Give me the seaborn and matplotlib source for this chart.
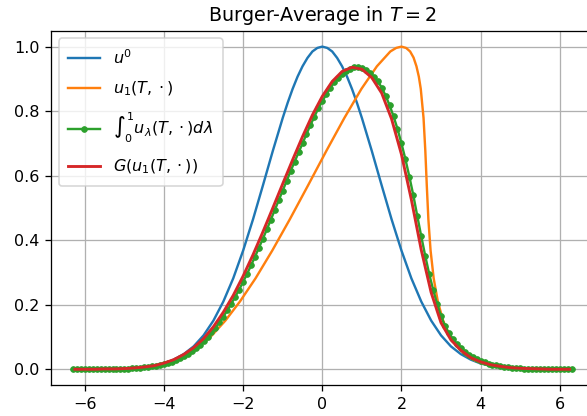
import numpy as np
import matplotlib
matplotlib.use("Agg")
import matplotlib.pyplot as plt
import seaborn as sns

# initial profile u^0 (finer steps around the peak)
blue_x = [-6.25, -6.0, -5.75, -5.5, -5.25, -5.0, -4.75, -4.5, -4.25, -4.0,
          -3.75, -3.5, -3.25, -3.0, -2.75, -2.5, -2.25, -2.0, -1.75, -1.5,
          -1.25, -1.0, -0.875, -0.75, -0.625, -0.5, -0.375, -0.25, -0.125, 0.0,
          0.125, 0.25, 0.375, 0.5, 0.625, 0.75, 0.875, 1.0, 1.25, 1.5,
          1.75, 2.0, 2.25, 2.5, 2.75, 3.0, 3.25, 3.5, 3.75, 4.0,
          4.25, 4.5, 4.75, 5.0, 5.25, 5.5, 5.75, 6.0, 6.25]
blue_y = [0.000, 0.000, 0.000, 0.001, 0.001, 0.002, 0.004, 0.006, 0.011, 0.018,
          0.030, 0.047, 0.071, 0.105, 0.151, 0.210, 0.282, 0.368, 0.465, 0.570,
          0.677, 0.779, 0.826, 0.869, 0.907, 0.939, 0.965, 0.985, 0.996, 1.000,
          0.996, 0.985, 0.965, 0.939, 0.907, 0.869, 0.826, 0.779, 0.677, 0.570,
          0.465, 0.368, 0.282, 0.210, 0.151, 0.105, 0.071, 0.047, 0.030, 0.018,
          0.011, 0.006, 0.004, 0.002, 0.001, 0.001, 0.000, 0.000, 0.000]

# u_1(T, .)  (steep front near x = 2.7)
orange_x = [-6.25, -6.0, -5.749, -5.499, -5.248, -4.996, -4.743, -4.487, -4.228, -3.963,
            -3.691, -3.406, -3.107, -2.789, -2.448, -2.081, -1.686, -1.264, -0.820, -0.360,
            0.103, 0.558, 0.988, 1.379, 1.719, 1.867, 2.0, 2.117, 2.219, 2.306,
            2.379, 2.439, 2.488, 2.558, 2.603, 2.640, 2.680, 2.736, 2.814, 2.919,
            3.052, 3.211, 3.393, 3.594, 3.809, 4.037, 4.272, 4.513, 4.757, 5.004,
            5.252, 5.501, 5.751, 6.0, 6.25]
orange_y = [0.000, 0.000, 0.000, 0.001, 0.001, 0.002, 0.004, 0.006, 0.011, 0.018,
            0.030, 0.047, 0.071, 0.105, 0.151, 0.210, 0.282, 0.368, 0.465, 0.570,
            0.677, 0.779, 0.869, 0.939, 0.985, 0.996, 1.000, 0.996, 0.985, 0.966,
            0.939, 0.907, 0.869, 0.779, 0.677, 0.570, 0.465, 0.368, 0.282, 0.210,
            0.151, 0.105, 0.071, 0.047, 0.030, 0.018, 0.011, 0.006, 0.004, 0.002,
            0.001, 0.001, 0.000, 0.000, 0.000]

# average over lambda, sampled every 0.1 from -6.3 to 6.3
green_x = np.linspace(-6.3, 6.3, 127)
green_y = [0.000, 0.000, 0.000, 0.000, 0.000, 0.000, 0.000, 0.000, 0.001, 0.001,
           0.001, 0.001, 0.001, 0.002, 0.002, 0.003, 0.004, 0.005, 0.006, 0.007,
           0.009, 0.011, 0.014, 0.017, 0.020, 0.024, 0.029, 0.034, 0.040, 0.048,
           0.056, 0.065, 0.076, 0.087, 0.099, 0.114, 0.129, 0.145, 0.163, 0.183,
           0.203, 0.225, 0.247, 0.271, 0.296, 0.322, 0.349, 0.377, 0.405, 0.434,
           0.464, 0.494, 0.524, 0.554, 0.584, 0.615, 0.643, 0.672, 0.700, 0.729,
           0.757, 0.783, 0.809, 0.831, 0.852, 0.872, 0.889, 0.904, 0.916, 0.925,
           0.932, 0.936, 0.937, 0.935, 0.928, 0.919, 0.907, 0.893, 0.873, 0.848,
           0.818, 0.784, 0.745, 0.700, 0.651, 0.597, 0.539, 0.475, 0.412, 0.352,
           0.296, 0.247, 0.203, 0.165, 0.134, 0.112, 0.094, 0.079, 0.066, 0.055,
           0.045, 0.037, 0.032, 0.026, 0.021, 0.017, 0.014, 0.012, 0.010, 0.008,
           0.006, 0.005, 0.004, 0.003, 0.002, 0.002, 0.001, 0.001, 0.001, 0.001,
           0.000, 0.000, 0.000, 0.000, 0.000, 0.000, 0.000]

# G(u_1(T, .)) on a 0.25 grid
red_x = np.arange(-25, 26) * 0.25
red_y = [0.000, 0.000, 0.000, 0.001, 0.001, 0.002, 0.004, 0.007, 0.011, 0.019,
         0.030, 0.046, 0.067, 0.095, 0.132, 0.177, 0.229, 0.289, 0.355, 0.426,
         0.500, 0.575, 0.649, 0.721, 0.788, 0.846, 0.892, 0.923, 0.936, 0.930,
         0.904, 0.856, 0.776, 0.666, 0.526, 0.370, 0.238, 0.144, 0.091, 0.059,
         0.036, 0.023, 0.014, 0.009, 0.005, 0.003, 0.002, 0.001, 0.000, 0.000,
         0.000]

labels = [r'$u^0$', r'$u_1(T,\cdot)$',
          r'$\int_0^1 u_\lambda(T,\cdot)d\lambda$', r'$G(u_1(T,\cdot))$']
colors = ['#1f77b4', '#ff7f0e', '#2ca02c', '#d62728']

DPI = 115
fig = plt.figure(figsize=(587 / DPI, 416 / DPI), dpi=DPI)
ax = fig.add_axes([50.8 / 587, 1 - 385.4 / 416, 543 / 587, 354.9 / 416])

sns.lineplot(x=blue_x, y=blue_y, ax=ax, color=colors[0], label=labels[0], lw=1.5)
sns.lineplot(x=orange_x, y=orange_y, ax=ax, color=colors[1], label=labels[1], lw=1.5)
sns.lineplot(x=green_x, y=green_y, ax=ax, color=colors[2], label=labels[2], lw=1.5,
             marker='o', markersize=3.6, markeredgewidth=0.5,
             markeredgecolor=colors[2], markerfacecolor=colors[2])
sns.lineplot(x=red_x, y=red_y, ax=ax, color=colors[3], label=labels[3], lw=1.8)

ax.set_xlim(-6.86, 6.86)
ax.set_ylim(-0.05, 1.05)
ax.grid(True)
ax.set_title(r'Burger-Average in $T=2$')
ax.legend(loc='upper left', labelspacing=0.8, borderpad=0.6)

fig.savefig('out.png', dpi=DPI)
